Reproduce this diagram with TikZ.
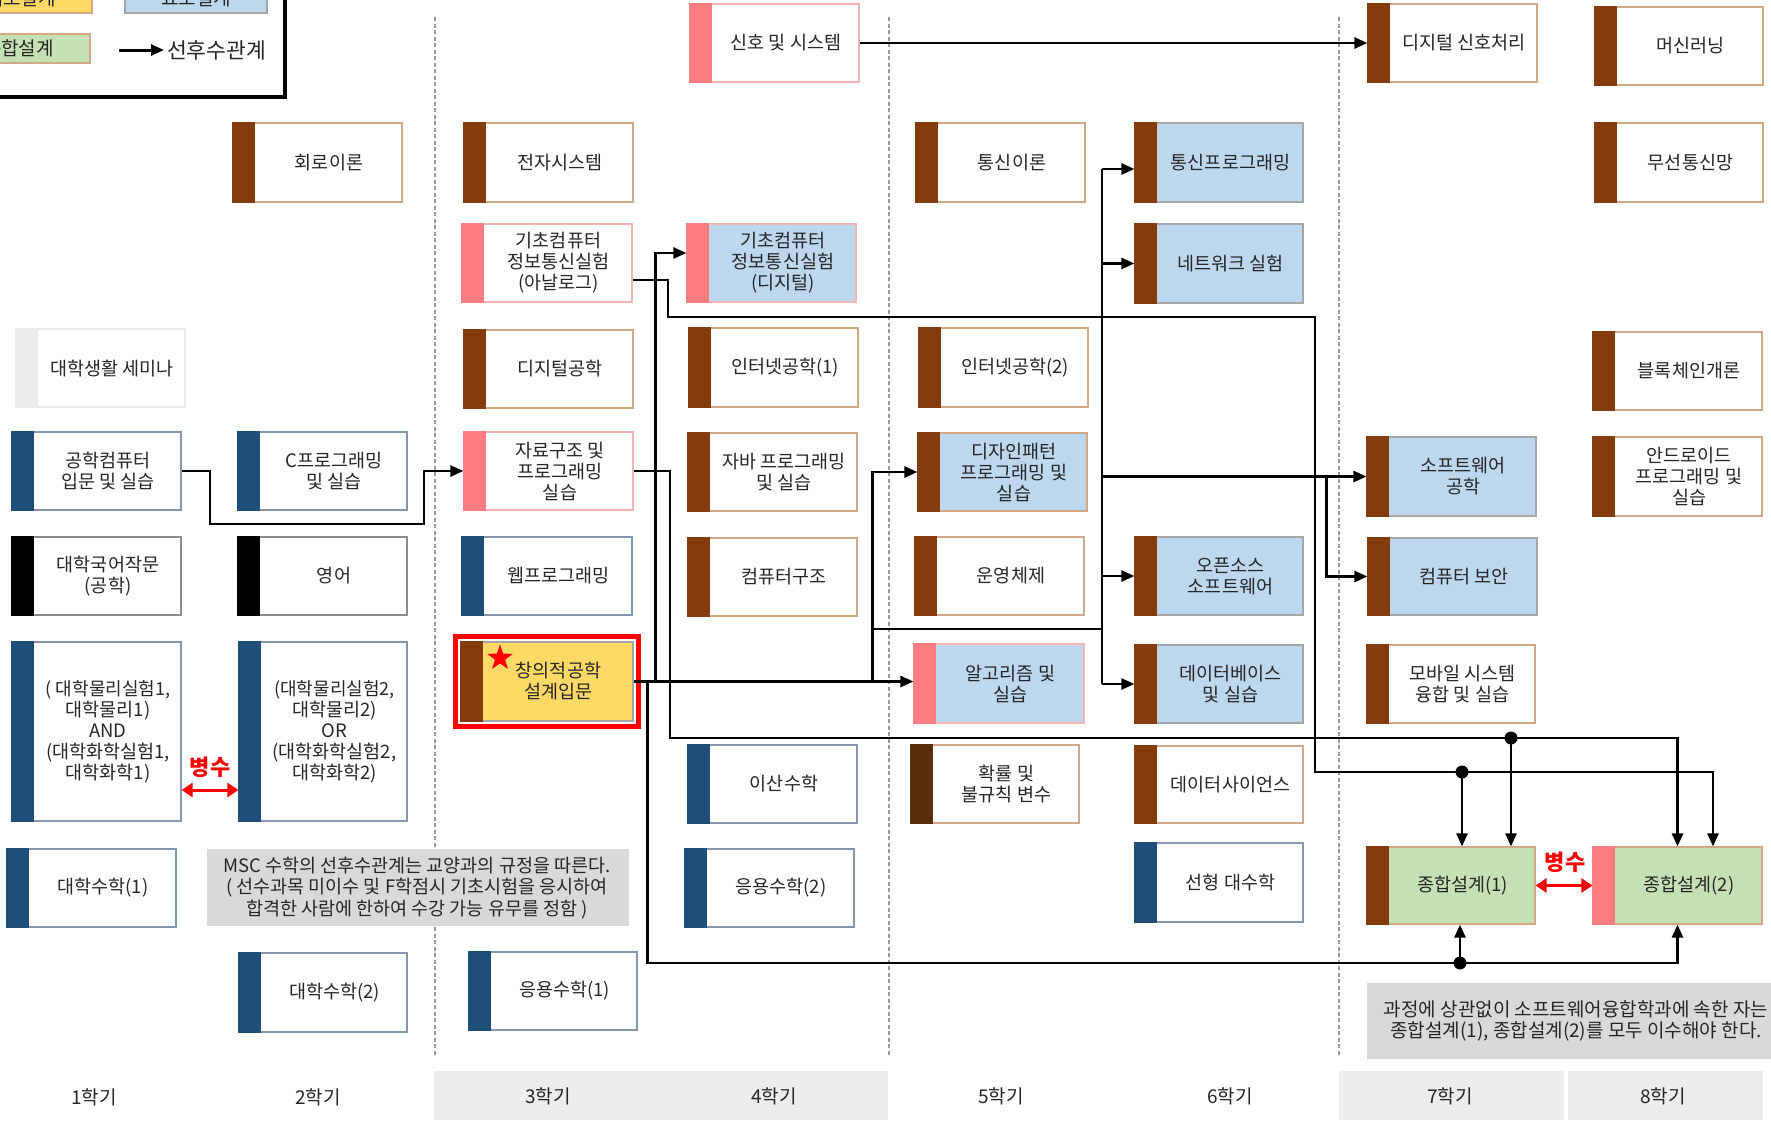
\documentclass[tikz,border=0pt]{standalone}
\usepackage{fontspec}
\setmainfont{Noto Sans CJK KR}
\usetikzlibrary{arrows.meta,shapes.geometric,fit}
\definecolor{brn}{HTML}{843C0C}
\definecolor{dbrn}{HTML}{5A2D0C}
\definecolor{sal}{HTML}{FF7C80}
\definecolor{nvy}{HTML}{1F4E79}
\definecolor{lgr}{HTML}{EDEDED}
\definecolor{bfill}{HTML}{BDD7EE}
\definecolor{gfill}{HTML}{C5E0B4}
\definecolor{yfill}{HTML}{FFD966}
\definecolor{bdb}{HTML}{D2A886}
\definecolor{bdn}{HTML}{8497B0}
\definecolor{bds}{HTML}{F5B5B5}
\definecolor{bdk}{HTML}{8C8C8C}
\definecolor{bdgr}{HTML}{A6A6A6}
\definecolor{bdl}{HTML}{EAEAEA}
\definecolor{txt}{HTML}{262626}
\definecolor{notec}{HTML}{D9D9D9}
\definecolor{bandc}{HTML}{EDEDED}
\definecolor{redc}{HTML}{FF0000}
\definecolor{dashc}{HTML}{9A9A9A}

\newcommand\crsbox[9]{%
 \node[cbox, fill=#7, draw=#8, minimum width=#4pt, minimum height=#5pt] (#1) at ({#2+#4/2},{#3+#5/2}) {};
 \fill[#6] (#1.north west) rectangle ([xshift=23pt]#1.south west);
 \node[ctext] (#1-t) at ([xshift=11.5pt]#1.center) {#9};
}

\begin{document}
\begin{tikzpicture}[x=1pt,y=-1pt,
 cbox/.style={rectangle,inner sep=0pt,line width=1.2pt},
 ctext/.style={align=center,inner sep=0pt,text=txt,font=\fontsize{18.5}{21}\selectfont},
 ln/.style={line width=2.6pt,draw=black},
 arr/.style={line width=2.6pt,draw=black,-{Triangle[length=13pt,width=11pt]}},
 dbl/.style={line width=3pt,draw=redc,{Triangle[length=11pt,width=14pt]}-{Triangle[length=11pt,width=14pt]}},
 dotn/.style={circle,fill=black,inner sep=0pt,minimum size=13pt},
 notebox/.style={rectangle,fill=notec,inner sep=0pt,anchor=north west},
 bandbox/.style={rectangle,fill=bandc,inner sep=0pt,anchor=north west},
 redlbl/.style={text=redc,inner sep=0pt,font=\fontsize{22}{26}\selectfont\bfseries},
 semlbl/.style={inner sep=0pt,text=txt,font=\fontsize{19}{22}\selectfont},
 lgtxt/.style={inner sep=0pt,text=txt,font=\fontsize{19}{22}\selectfont}]
\useasboundingbox (0,0) rectangle (1771,1120);
\clip (0,0) rectangle (1771,1120);
\fill[white] (0,0) rectangle (1771,1120);

% semester bands
\node[bandbox, minimum width=454pt, minimum height=49pt] (band34) at (434,1071) {};
\node[bandbox, minimum width=225pt, minimum height=49pt] (band7) at (1339,1071) {};
\node[bandbox, minimum width=195pt, minimum height=49pt] (band8) at (1568,1071) {};
\node[semlbl] (s1) at (94,1097) {1학기};
\node[semlbl] (s2) at (318,1097) {2학기};
\node[semlbl] (s3) at (548,1096) {3학기};
\node[semlbl] (s4) at (774,1096) {4학기};
\node[semlbl] (s5) at (1001,1096) {5학기};
\node[semlbl] (s6) at (1230,1096) {6학기};
\node[semlbl] (s7) at (1450,1096) {7학기};
\node[semlbl] (s8) at (1663,1096) {8학기};

% dashed semester separators
\foreach \xx in {435,889,1339}
  \draw[dashc, line width=1.2pt, dash pattern=on 4pt off 2.5pt] (\xx,17) -- (\xx,1055);

% notes
\node[notebox, minimum width=422pt, minimum height=77pt] (msc) at (207,849) {};
\node[ctext, font=\fontsize{18.5}{21.5}\selectfont] (msc-t) at (417,888) {MSC 수학의 선후수관계는 교양과의 규정을 따른다.\\( 선수과목 미이수 및 F학점시 기초시험을 응시하여\\합격한 사람에 한하여 수강 가능 유무를 정함 )};
\node[notebox, minimum width=410pt, minimum height=76pt] (rnote) at (1367,983) {};
\node[ctext, font=\fontsize{19}{21.5}\selectfont] (rnote-t) at (1576,1021) {과정에 상관없이 소프트웨어융합학과에 속한 자는\\종합설계(1), 종합설계(2)를 모두 이수해야 한다.};

% legend
\node[cbox, fill=yfill, draw=bdb, minimum width=142pt, minimum height=29pt] (lgY) at (21,-1.5) {};
\node[lgtxt] (lgY-t) at (lgY.center) {기초설계};
\node[cbox, fill=bfill, draw=bdgr, minimum width=142pt, minimum height=29pt] (lgB) at (196,-1.5) {};
\node[lgtxt] (lgB-t) at (lgB.center) {요소설계};
\node[cbox, fill=gfill, draw=bdb, minimum width=142pt, minimum height=29pt] (lgG) at (19,48.5) {};
\node[lgtxt] (lgG-t) at (lgG.center) {종합설계};
\coordinate (lgA) at (119,50);
\node[lgtxt, anchor=west, font=\fontsize{21.5}{24}\selectfont] (lgT) at (167,50) {선후수관계};
\draw[arr, line width=3pt] (lgA) -- ([xshift=-3pt]lgT.west);
\draw[line width=3.5pt] (-10,97) -- (285,97) -- (285,-10);

% semester 1
\crsbox{semina}{16}{329}{169}{78}{lgr}{white}{bdl}{대학생활 세미나}
\crsbox{gongcom}{12}{432}{169}{78}{nvy}{white}{bdn}{공학컴퓨터\\입문 및 실습}
\crsbox{kor}{12}{537}{169}{78}{black}{white}{bdk}{대학국어작문\\(공학)}
\crsbox{phys1}{12}{642}{169}{179}{nvy}{white}{bdn}{\fontsize{18}{21}\selectfont( 대학물리실험1,\\대학물리1)\\AND\\(대학화학실험1,\\대학화학1)}
\crsbox{math1}{7}{849}{169}{78}{nvy}{white}{bdn}{대학수학(1)}
% semester 2
\crsbox{circuit}{233}{123}{169}{79}{brn}{white}{bdb}{회로이론}
\crsbox{cprog}{238}{432}{169}{78}{nvy}{white}{bdn}{C프로그래밍\\및 실습}
\crsbox{eng}{238}{537}{169}{78}{black}{white}{bdk}{영어}
\crsbox{phys2}{239}{642}{168}{179}{nvy}{white}{bdn}{\fontsize{18}{21}\selectfont(대학물리실험2,\\대학물리2)\\OR\\(대학화학실험2,\\대학화학2)}
\crsbox{math2}{239}{953}{168}{79}{nvy}{white}{bdn}{대학수학(2)}
% semester 3
\crsbox{elec}{464}{123}{169}{79}{brn}{white}{bdb}{전자시스템}
\crsbox{analog}{462}{224}{170}{78}{sal}{white}{bds}{기초컴퓨터\\정보통신실험\\(아날로그)}
\crsbox{digeng}{464}{330}{169}{78}{brn}{white}{bdb}{디지털공학}
\crsbox{dsprog}{464}{432}{169}{78}{sal}{white}{bds}{자료구조 및\\프로그래밍\\실습}
\crsbox{web}{462}{537}{170}{78}{nvy}{white}{bdn}{웹프로그래밍}
\crsbox{creative}{461}{642}{172}{79}{brn}{yfill}{bdgr}{창의적공학\\설계입문}
\node[fit=(creative), inner sep=5pt, draw=redc, line width=5pt] (creativeframe) {};
\node[star, star points=5, star point ratio=2.5, fill=redc, inner sep=0pt, minimum size=27pt] (star) at (500,658) {};
\crsbox{amath1}{469}{952}{168}{78}{nvy}{white}{bdn}{응용수학(1)}
% semester 4
\crsbox{signal}{690}{4}{169}{78}{sal}{white}{bds}{신호 및 시스템}
\crsbox{digital}{687}{224}{169}{78}{sal}{bfill}{bds}{기초컴퓨터\\정보통신실험\\(디지털)}
\crsbox{inet1}{689}{328}{169}{79}{brn}{white}{bdb}{인터넷공학(1)}
\crsbox{java}{688}{433}{169}{78}{brn}{white}{bdb}{자바 프로그래밍\\및 실습}
\crsbox{arch}{688}{538}{169}{78}{brn}{white}{bdb}{컴퓨터구조}
\crsbox{discrete}{688}{745}{169}{78}{nvy}{white}{bdn}{이산수학}
\crsbox{amath2}{685}{849}{169}{78}{nvy}{white}{bdn}{응용수학(2)}
% semester 5
\crsbox{commth}{916}{123}{169}{79}{brn}{white}{bdb}{통신이론}
\crsbox{inet2}{919}{328}{169}{79}{brn}{white}{bdb}{인터넷공학(2)}
\crsbox{design}{918}{433}{169}{78}{brn}{bfill}{bdb}{디자인패턴\\프로그래밍 및\\실습}
\crsbox{os}{915}{537}{169}{78}{brn}{white}{bdb}{운영체제}
\crsbox{algo}{914}{644}{170}{79}{sal}{bfill}{bds}{알고리즘 및\\실습}
\crsbox{prob}{911}{745}{168}{78}{dbrn}{white}{bdb}{확률 및\\불규칙 변수}
% semester 6
\crsbox{commprog}{1135}{123}{168}{79}{brn}{bfill}{bdgr}{통신프로그래밍}
\crsbox{network}{1135}{224}{168}{79}{brn}{bfill}{bdgr}{네트워크 실험}
\crsbox{oss}{1135}{537}{168}{78}{brn}{bfill}{bdgr}{오픈소스\\소프트웨어}
\crsbox{db}{1135}{645}{168}{78}{brn}{bfill}{bdgr}{데이터베이스\\및 실습}
\crsbox{datasci}{1135}{746}{168}{77}{brn}{white}{bdb}{데이터사이언스}
\crsbox{linalg}{1135}{843}{168}{79}{nvy}{white}{bdn}{선형 대수학}
% semester 7
\crsbox{dsp}{1368}{4}{169}{78}{brn}{white}{bdb}{디지털 신호처리}
\crsbox{swe}{1367}{437}{169}{79}{brn}{bfill}{bdgr}{소프트웨어\\공학}
\crsbox{security}{1368}{538}{169}{77}{brn}{bfill}{bdgr}{컴퓨터 보안}
\crsbox{mobile}{1367}{645}{168}{78}{brn}{white}{bdb}{모바일 시스템\\융합 및 실습}
\crsbox{cap1}{1367}{847}{168}{77}{brn}{gfill}{bdb}{종합설계(1)}
% semester 8
\crsbox{ml}{1595}{7}{168}{78}{brn}{white}{bdb}{머신러닝}
\crsbox{wireless}{1595}{123}{168}{79}{brn}{white}{bdb}{무선통신망}
\crsbox{blockchain}{1593}{332}{169}{78}{brn}{white}{bdb}{블록체인개론}
\crsbox{android}{1593}{437}{169}{79}{brn}{white}{bdb}{안드로이드\\프로그래밍 및\\실습}
\crsbox{cap2}{1593}{847}{169}{77}{sal}{gfill}{bdb}{종합설계(2)}

% co-requisite arrows
\draw[dbl] (phys1.east |- 0,790) -- (phys2.west |- 0,790);
\node[redlbl] (bs1) at (210,767) {병수};
\draw[dbl] (cap1.east) -- (cap2.west);
\node[redlbl] (bs2) at (1565,862) {병수};

% connector: 공학컴퓨터 -> 자료구조
\coordinate (p1) at (210,524);
\coordinate (p2) at (424,524);
\draw[arr] (gongcom.east) -| (p1) -- (p2) |- (dsprog.west);

% connector: 신호 및 시스템 -> 디지털 신호처리
\draw[arr] (signal.east) -- (dsp.west);

% connector: 아날로그 -> 종합설계
\coordinate (a1) at (668,317);
\coordinate (a2) at (1315,772);
\draw[arr] ([yshift=-17pt]analog.east) -| (a1) -| (a2) -| ([xshift=35.5pt]cap2.north);
\node[dotn] (d1) at (1462,772) {};
\draw[arr] (d1.center) -- (d1.center |- cap1.north);

% connector: 자료구조 -> 종합설계
\coordinate (b1) at (670,738);
\draw[arr] (dsprog.east) -| (b1) -| (cap2.north);
\node[dotn] (d2) at (1511,738) {};
\draw[arr] (d2.center) -- (d2.center |- cap1.north);

% connector: 창의적공학설계입문
\draw[arr] (creative.east) -- (creative.east -| algo.west);
\path (creative.east) ++(22,0) coordinate (c1);
\draw[arr] (c1) |- ([yshift=10pt]digital.west);
\path (creative.east) ++(14,0) coordinate (c2);
\coordinate (c3) at (1460,963);
\draw[arr] (c2) |- (c3) -| (cap2.south);
\node[dotn] (d3) at (c3) {};
\draw[arr] (d3.center) -- (d3.center |- cap1.south);
\path (creative.east) ++(239,0) coordinate (c4);
\draw[arr] (c4) |- (design.west);
\coordinate (c5) at (872,629);
\coordinate (v1) at (1102,169);
\draw[ln] (c5) -| (db.west -| v1);
\draw[ln] (v1) -- (db.west -| v1);
\draw[arr] (v1) -- (v1 -| commprog.west);
\draw[arr] (network.west -| v1) -- (network.west);
\draw[arr] (oss.west -| v1) -- (oss.west);
\draw[arr] (db.west -| v1) -- (db.west);
\coordinate (w1) at (swe.west -| v1);
\draw[arr] (w1) -- (swe.west);
\path (swe.west) ++(-40,0) coordinate (w2);
\draw[arr] (w2) |- (security.west);
\end{tikzpicture}
\end{document}
